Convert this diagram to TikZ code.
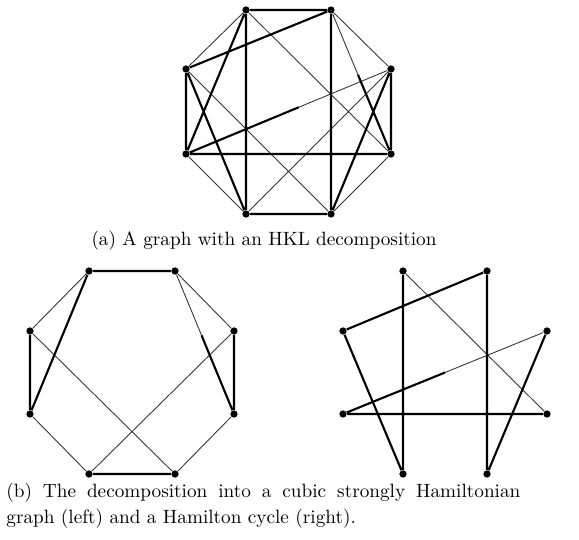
\documentclass[tikz,border=0pt]{standalone}
\usetikzlibrary{calc}
\begin{document}
\begin{tikzpicture}[x=0.52pt,y=-0.52pt,
  vtx/.style={circle,fill=black,inner sep=0pt,minimum size=3.8pt},
  thk/.style={line width=1.1pt,black},
  thn/.style={line width=0.45pt,black!80},
  captxt/.style={inner sep=0pt,font=\fontsize{10}{13.5}\selectfont}]
\useasboundingbox (0,0) rectangle (579,539);
% ---- top graph
\node[vtx] (T1) at (246,10) {};
\node[vtx] (T2) at (331,10) {};
\node[vtx] (R1) at (391,69) {};
\node[vtx] (R2) at (391,154) {};
\node[vtx] (B2) at (331,214) {};
\node[vtx] (B1) at (246,214) {};
\node[vtx] (L2) at (186,154) {};
\node[vtx] (L1) at (186,69) {};
\coordinate (M1) at ($(L2)!0.55!(R1)$);
\coordinate (M2) at ($(T2)!0.45!(R2)$);
\draw[thn] (T1)--(L1) (T1)--(R2) (L1)--(B2) (L2)--(B1) (B2)--(R2) (B1)--(R1) (T2)--(R1) (M1)--(R1) (T2)--(M2);
\draw[thk] (T1)--(T2) (T1)--(B1) (T2)--(B2) (B1)--(B2) (L1)--(L2) (R1)--(R2) (L2)--(R2) (L1)--(T2) (T1)--(L2) (L1)--(B1) (R1)--(B2) (L2)--(M1) (M2)--(R2);
\node[captxt,anchor=base] (capa) at (264,245) {(a) A graph with an HKL decomposition};
% ---- bottom left: cubic graph
\node[vtx] (a) at (89,271) {};
\node[vtx] (b) at (175,271) {};
\node[vtx] (c) at (234,331) {};
\node[vtx] (d) at (234,414) {};
\node[vtx] (e) at (175,474) {};
\node[vtx] (f) at (89,474) {};
\node[vtx] (g) at (30,414) {};
\node[vtx] (h) at (30,331) {};
\coordinate (M3) at ($(b)!0.45!(d)$);
\draw[thn] (a)--(h) (h)--(e) (g)--(f) (f)--(c) (e)--(d) (b)--(c) (b)--(M3);
\draw[thk] (a)--(b) (a)--(g) (h)--(g) (f)--(e) (d)--(c) (M3)--(d);
% ---- bottom right: Hamilton cycle
\node[vtx] (p) at (403,271) {};
\node[vtx] (q) at (487,271) {};
\node[vtx] (r) at (547,331) {};
\node[vtx] (s) at (547,414) {};
\node[vtx] (t) at (487,474) {};
\node[vtx] (u) at (403,474) {};
\node[vtx] (v) at (343,414) {};
\node[vtx] (w) at (343,331) {};
\coordinate (M4) at ($(v)!0.5!(r)$);
\draw[thn] (p)--(s) (M4)--(r);
\draw[thk] (p)--(u) (u)--(w) (w)--(q) (q)--(t) (t)--(r) (v)--(M4) (v)--(s);
\node[captxt,anchor=north west,text width=514*0.52pt,align=justify] (capb) at (6,483)
  {(b) The decomposition into a cubic strongly Hamiltonian\linebreak graph (left) and a Hamilton cycle (right).};
\end{tikzpicture}
\end{document}
